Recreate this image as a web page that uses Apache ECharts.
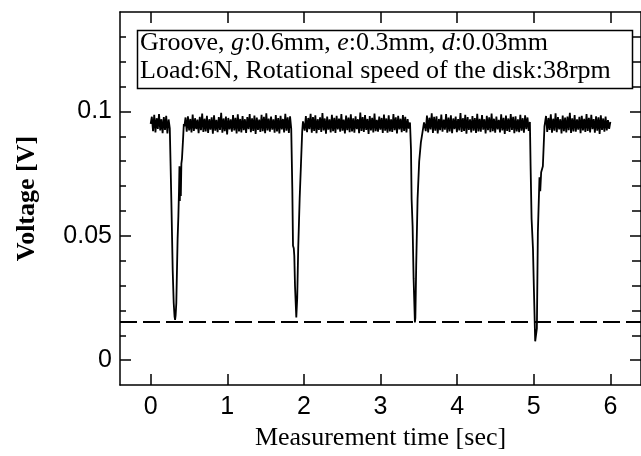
<!DOCTYPE html>
<html>
<head>
<meta charset="utf-8">
<script src="https://cdn.jsdelivr.net/npm/echarts@6/dist/echarts.min.js"></script>
<style>html,body{margin:0;padding:0;background:#fff;}#c{width:641px;height:456px;}</style>
</head>
<body>
<div id="c"></div>
<script>
// ---- data (voltages in mV, times in sec) ----
const xTicks = [0, 1, 2, 3, 4, 5, 6];
const yTicks = [0, 0.05, 0.1];
const yMinorTicks = [0.01, 0.02, 0.03, 0.04, 0.06, 0.07, 0.08, 0.09, 0.11, 0.12, 0.13];
const thresholdV = 0.0156;

// flat (noisy) segments: [startTime, endTime], samples in mV
const segA = { t: [0.0, 0.25], v: [95.0,97.9,92.1,98.7,91.6,97.3,93.0,99.0,92.4,96.9,91.3,97.8,92.6,98.3,91.2,96.8,93.2] };
const segB = { t: [0.44, 1.835], v: [
 94.0,97.6,91.9,98.1,92.4,97.0,91.6,98.8,92.2,97.3,
 92.9,96.7,91.3,97.9,92.5,99.2,91.8,97.1,92.0,98.3,
 91.4,96.9,92.7,97.7,91.1,98.5,92.3,96.6,91.7,97.8,
 92.6,99.5,91.5,97.2,92.1,98.0,90.8,97.4,92.8,96.8,
 91.9,98.6,92.4,97.5,91.2,98.9,92.0,97.0,91.6,98.2,
 92.5,96.9,91.4,97.8,92.9,99.0,91.7,97.3,92.2,98.4,
 91.0,97.6,92.6,96.7,91.8,98.7,92.1,97.9,91.3,99.3,
 92.4,97.1,91.9,98.0,92.7,96.8,91.5,98.6,92.0,97.4,
 91.2,98.3,92.8,97.0,91.6,99.1,92.3,97.7,91.4,98.1,93.0] };
const segC = { t: [1.995, 3.385], v: [
 96.5,92.3,98.2,91.7,97.4,92.9,99.1,91.5,97.8,92.2,
 98.5,91.3,96.9,92.6,97.7,91.8,99.4,92.4,97.2,91.1,
 98.0,92.7,96.8,91.6,98.7,92.1,97.5,91.4,98.3,92.8,
 97.1,91.9,99.0,92.3,96.7,91.2,98.4,92.5,97.6,91.7,
 98.9,92.0,97.3,91.5,98.1,92.9,96.9,91.3,99.6,92.2,
 97.8,91.8,98.6,92.6,97.0,91.0,98.2,92.4,97.5,91.6,
 99.2,92.1,96.6,91.9,98.0,92.7,97.4,91.4,98.8,92.3,
 97.2,91.5,98.5,92.0,96.8,91.8,99.0,92.5,97.7,91.2,
 98.3,92.8,97.1,91.7,98.6,92.2,97.9,91.6,96.9,93.1,95.6] };
const segD = { t: [3.575, 4.95], v: [
 95.8,92.1,98.4,91.6,97.5,92.8,99.3,91.4,97.9,92.3,
 98.1,91.2,97.0,92.5,98.8,91.9,96.7,92.7,99.0,91.5,
 97.6,92.0,98.5,91.3,97.2,92.9,98.0,91.7,96.9,92.4,
 99.4,91.8,97.3,92.2,98.7,91.1,97.8,92.6,96.8,91.6,
 98.2,92.3,97.4,91.4,99.1,92.0,97.0,91.9,98.6,92.7,
 96.9,91.2,98.3,92.5,97.7,91.7,99.2,92.1,97.1,91.5,
 98.0,92.8,96.6,91.6,98.9,92.4,97.5,91.0,98.4,92.2,
 97.2,91.8,99.0,92.6,97.9,91.3,98.1,92.0,96.8,91.7,
 98.7,92.3,97.3,91.5,98.5,92.9,97.6,92.2,95.8] };
const segE = { t: [5.145, 6.0], v: [
 94.5,98.2,91.8,97.4,92.6,98.9,91.5,97.1,92.3,99.3,
 91.7,97.8,92.8,96.9,91.2,98.4,92.1,97.6,91.6,98.0,
 92.5,99.5,91.4,97.3,92.0,98.6,91.9,96.8,92.7,97.9,
 91.3,98.3,92.4,97.0,91.8,99.0,92.2,97.5,91.6,98.7,
 92.9,96.9,91.5,98.1,92.3,97.7,91.0,98.5,92.6,97.2,
 91.9,98.0,92.4,96.5,93.0,95.8] };

// dips: [time, mV]
const dip1 = [[0.258,94.0],[0.271,63],[0.288,36],[0.301,23],[0.312,17.5],[0.319,16.2],[0.326,18],[0.335,23],[0.352,49],[0.362,58],[0.370,68],[0.376,78],[0.381,64],[0.387,76],[0.394,66],[0.401,79],[0.409,81],[0.425,90],[0.433,95]];
const dip2 = [[1.841,93.5],[1.849,69],[1.858,46],[1.868,45],[1.875,42],[1.884,30],[1.901,17.2],[1.913,25],[1.926,45],[1.945,65],[1.961,78],[1.978,92],[1.988,96]];
const dip3 = [[3.389,95.6],[3.398,84.8],[3.406,64.8],[3.419,54],[3.432,32.8],[3.449,15.2],[3.455,17],[3.466,38],[3.484,65],[3.505,80],[3.527,87.6],[3.550,92],[3.568,95.6]];
const dip4 = [[4.955,95.6],[4.959,78],[4.972,56.8],[4.990,44.8],[5.003,27.6],[5.019,7.6],[5.028,7.8],[5.041,12.8],[5.054,51.6],[5.075,73.6],[5.085,68],[5.097,75.6],[5.119,78],[5.140,94]];

// ---- build series ----
function segPoints(seg) {
  const n = seg.v.length;
  const dt = (seg.t[1] - seg.t[0]) / (n - 1);
  return seg.v.map((mv, i) => [seg.t[0] + i * dt, mv / 1000]);
}
function dipPoints(d) { return d.map(p => [p[0], p[1] / 1000]); }
const signal = [].concat(
  segPoints(segA), dipPoints(dip1), segPoints(segB), dipPoints(dip2),
  segPoints(segC), dipPoints(dip3), segPoints(segD), dipPoints(dip4), segPoints(segE)
);

const chart = echarts.init(document.getElementById('c'), null, { renderer: 'canvas' });
const black = '#000';
const lbl = { color: black, fontFamily: 'Liberation Sans', fontSize: 25 };
const Y_MIN = -0.01, Y_MAX = 0.14, X_MIN = -0.4, X_MAX = 6.4;
const line = { show: true, onZero: false, lineStyle: { color: black, width: 1.5 } };
const noLine = { show: false, onZero: false };
const tickStyle = { color: black, width: 1.5 };

chart.setOption({
  animation: false,
  backgroundColor: '#fff',
  grid: { left: 120, top: 12, right: -6, bottom: 69, containLabel: false },
  xAxis: [
    { type: 'value', min: X_MIN, max: X_MAX, position: 'bottom',
      axisLine: line,
      axisTick: { show: true, inside: true, length: 11, customValues: xTicks, lineStyle: tickStyle },
      axisLabel: Object.assign({ customValues: xTicks, margin: 10, formatter: v => String(v) }, lbl),
      splitLine: { show: false },
      name: 'Measurement time [sec]', nameLocation: 'middle', nameGap: 31,
      nameTextStyle: { color: black, fontFamily: 'Liberation Serif', fontSize: 26 } },
    { type: 'value', min: X_MIN, max: X_MAX, position: 'top',
      axisLine: line,
      axisTick: { show: true, inside: true, length: 11, customValues: xTicks, lineStyle: tickStyle },
      axisLabel: { show: false }, splitLine: { show: false } }
  ],
  yAxis: [
    { type: 'value', min: Y_MIN, max: Y_MAX, position: 'left',
      axisLine: line,
      axisTick: { show: true, inside: true, length: 11, customValues: yTicks, lineStyle: tickStyle },
      axisLabel: Object.assign({ customValues: yTicks, margin: 8, formatter: v => String(v) }, lbl),
      splitLine: { show: false },
      name: 'Voltage [V]', nameLocation: 'middle', nameGap: 80,
      nameTextStyle: { color: black, fontFamily: 'Liberation Serif', fontSize: 26, fontWeight: 'bold' } },
    { type: 'value', min: Y_MIN, max: Y_MAX, position: 'left', offset: 0,
      axisLine: noLine,
      axisTick: { show: true, inside: true, length: 6, customValues: yMinorTicks, lineStyle: tickStyle },
      axisLabel: { show: false }, splitLine: { show: false } },
    { type: 'value', min: Y_MIN, max: Y_MAX, position: 'right', offset: 0,
      axisLine: line,
      axisTick: { show: true, inside: true, length: 11, customValues: yTicks, lineStyle: tickStyle },
      axisLabel: { show: false }, splitLine: { show: false } },
    { type: 'value', min: Y_MIN, max: Y_MAX, position: 'right', offset: 0,
      axisLine: noLine,
      axisTick: { show: true, inside: true, length: 9, customValues: yMinorTicks, lineStyle: tickStyle },
      axisLabel: { show: false }, splitLine: { show: false } }
  ],
  series: [{
    type: 'line', xAxisIndex: 0, yAxisIndex: 0, data: signal,
    showSymbol: false, symbol: 'none', sampling: null,
    lineStyle: { color: black, width: 1.8 },
    markLine: {
      silent: true, symbol: 'none', precision: 4, label: { show: false },
      lineStyle: { color: black, width: 2, type: [17, 6] },
      data: [{ yAxis: thresholdV }]
    }
  }],
  graphic: [
    { type: 'rect', left: 135, top: 28, shape: { width: 495, height: 58 },
      style: { fill: 'none', stroke: black, lineWidth: 1.5 } },
    { type: 'text', left: 140, top: 29,
      style: {
        text: 'Groove, {i|g}:0.6mm, {i|e}:0.3mm, {i|d}:0.03mm\nLoad:6N, Rotational speed of the disk:38rpm',
        rich: { i: { fontStyle: 'italic', fontFamily: 'Liberation Serif', fontSize: 26, fill: black } },
        fontFamily: 'Liberation Serif', fontSize: 26, lineHeight: 28, fill: black
      } }
  ]
});
</script>
</body>
</html>
